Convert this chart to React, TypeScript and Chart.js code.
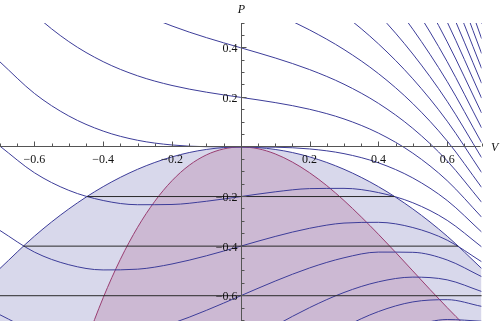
import React, { useEffect, useRef } from "react";
import { Chart, registerables } from "chart.js";

Chart.register(...registerables);

// Volume samples (V axis)
const V_SAMPLES = [-0.7, -0.6, -0.5, -0.4, -0.3, -0.2, -0.1, 0, 0.1, 0.2, 0.3, 0.4, 0.5, 0.6, 0.7];

// Isotherms, P at each V sample (one array per curve)
const isoM12 = [-1.697, -1.704, -1.675, -1.616, -1.533, -1.432, -1.319, -1.2, -1.081, -0.968, -0.867, -0.784, -0.725, -0.696, -0.703];
const isoM10 = [-1.357, -1.384, -1.375, -1.336, -1.273, -1.192, -1.099, -1.0, -0.901, -0.808, -0.727, -0.664, -0.625, -0.616, -0.643];
const isoM08 = [-1.017, -1.064, -1.075, -1.056, -1.013, -0.952, -0.879, -0.8, -0.721, -0.648, -0.587, -0.544, -0.525, -0.536, -0.583];
const isoM06 = [-0.677, -0.744, -0.775, -0.776, -0.753, -0.712, -0.659, -0.6, -0.541, -0.488, -0.447, -0.424, -0.425, -0.456, -0.523];
const isoM04 = [-0.337, -0.424, -0.475, -0.496, -0.493, -0.472, -0.439, -0.4, -0.361, -0.328, -0.307, -0.304, -0.325, -0.376, -0.463];
const isoM02 = [0.003, -0.104, -0.175, -0.216, -0.233, -0.232, -0.219, -0.2, -0.181, -0.168, -0.167, -0.184, -0.225, -0.296, -0.403];
const iso00 = [0.343, 0.216, 0.125, 0.064, 0.027, 0.008, 0.001, 0, -0.001, -0.008, -0.027, -0.064, -0.125, -0.216, -0.343];
const iso02 = [0.683, 0.536, 0.425, 0.344, 0.287, 0.248, 0.221, 0.2, 0.179, 0.152, 0.113, 0.056, -0.025, -0.136, -0.283];
const iso04 = [1.023, 0.856, 0.725, 0.624, 0.547, 0.488, 0.441, 0.4, 0.359, 0.312, 0.253, 0.176, 0.075, -0.056, -0.223];
const iso06 = [1.363, 1.176, 1.025, 0.904, 0.807, 0.728, 0.661, 0.6, 0.539, 0.472, 0.393, 0.296, 0.175, 0.024, -0.163];
const iso08 = [1.703, 1.496, 1.325, 1.184, 1.067, 0.968, 0.881, 0.8, 0.719, 0.632, 0.533, 0.416, 0.275, 0.104, -0.103];
const iso10 = [2.043, 1.816, 1.625, 1.464, 1.327, 1.208, 1.101, 1.0, 0.899, 0.792, 0.673, 0.536, 0.375, 0.184, -0.043];
const iso12 = [2.383, 2.136, 1.925, 1.744, 1.587, 1.448, 1.321, 1.2, 1.079, 0.952, 0.813, 0.656, 0.475, 0.264, 0.017];
const iso14 = [2.723, 2.456, 2.225, 2.024, 1.847, 1.688, 1.541, 1.4, 1.259, 1.112, 0.953, 0.776, 0.575, 0.344, 0.077];
const iso16 = [3.063, 2.776, 2.525, 2.304, 2.107, 1.928, 1.761, 1.6, 1.439, 1.272, 1.093, 0.896, 0.675, 0.424, 0.137];
const iso18 = [3.403, 3.096, 2.825, 2.584, 2.367, 2.168, 1.981, 1.8, 1.619, 1.432, 1.233, 1.016, 0.775, 0.504, 0.197];
const iso20 = [3.743, 3.416, 3.125, 2.864, 2.627, 2.408, 2.201, 2.0, 1.799, 1.592, 1.373, 1.136, 0.875, 0.584, 0.257];
const iso22 = [4.083, 3.736, 3.425, 3.144, 2.887, 2.648, 2.421, 2.2, 1.979, 1.752, 1.513, 1.256, 0.975, 0.664, 0.317];
const iso24 = [4.423, 4.056, 3.725, 3.424, 3.147, 2.888, 2.641, 2.4, 2.159, 1.912, 1.653, 1.376, 1.075, 0.744, 0.377];
const iso26 = [4.763, 4.376, 4.025, 3.704, 3.407, 3.128, 2.861, 2.6, 2.339, 2.072, 1.793, 1.496, 1.175, 0.824, 0.437];
const iso28 = [5.103, 4.696, 4.325, 3.984, 3.667, 3.368, 3.081, 2.8, 2.519, 2.232, 1.933, 1.616, 1.275, 0.904, 0.497];

const ISOTHERMS = [isoM12, isoM10, isoM08, isoM06, isoM04, isoM02, iso00, iso02, iso04, iso06, iso08, iso10, iso12, iso14, iso16, iso18, iso20, iso22, iso24, iso26, iso28];

// Coexistence curve (outer, blue region)
const COEX_P = [-0.49, -0.36, -0.25, -0.16, -0.09, -0.04, -0.01, 0, -0.01, -0.04, -0.09, -0.16, -0.25, -0.36, -0.49];

// Spinodal curve (inner, purple region)
const SPIN_V = [-0.7, -0.65, -0.6, -0.55, -0.5, -0.45, -0.4, -0.35, -0.3, -0.25, -0.2, -0.15, -0.1, -0.05, 0, 0.05, 0.1, 0.15, 0.2, 0.25, 0.3, 0.35, 0.4, 0.45, 0.5, 0.55, 0.6, 0.65, 0.7];
const SPIN_P = [-2.156, -1.817, -1.512, -1.24, -1.0, -0.79, -0.608, -0.453, -0.324, -0.219, -0.136, -0.074, -0.032, -0.008, 0, -0.007, -0.028, -0.061, -0.104, -0.156, -0.216, -0.282, -0.352, -0.425, -0.5, -0.575, -0.648, -0.718, -0.784];

// Tie lines (Maxwell construction)
const TIE_P = [-0.2, -0.4, -0.6];
const TIE_LEFT = [-0.447, -0.632, -0.775];
const TIE_RIGHT = [0.447, 0.632, 0.775];

// Axis ticks
const X_TICKS = [-0.6, -0.4, -0.2, 0.2, 0.4, 0.6];
const X_TICK_LABELS = ["\u22120.6", "\u22120.4", "\u22120.2", "0.2", "0.4", "0.6"];
const Y_TICKS = [-0.6, -0.4, -0.2, 0.2, 0.4];
const Y_TICK_LABELS = ["\u22120.6", "\u22120.4", "\u22120.2", "0.2", "0.4"];

const BLUE = "rgb(61,61,153)";
const PURPLE = "rgb(153,61,113)";
const SERIF = "'Liberation Serif', 'DejaVu Serif', serif";

const axesPlugin = {
  id: "mmaAxes",
  afterDatasetsDraw(chart: any) {
    const { ctx, chartArea, scales } = chart;
    const xs = scales.x;
    const ys = scales.y;
    const ax = Math.round(xs.getPixelForValue(0)) + 0.5;
    const ay = Math.floor(ys.getPixelForValue(0)) + 0.5;
    ctx.save();
    ctx.strokeStyle = "#555";
    ctx.lineWidth = 1;
    ctx.beginPath();
    ctx.moveTo(chartArea.left, ay);
    ctx.lineTo(chartArea.right - 1, ay);
    ctx.moveTo(ax, chartArea.top);
    ctx.lineTo(ax, chartArea.bottom);
    ctx.stroke();

    // minor + major ticks on x
    ctx.beginPath();
    for (let i = -14; i <= 14; i++) {
      if (i === 0) continue;
      const v = i * 0.05;
      const px = Math.round(xs.getPixelForValue(v)) + 0.5;
      const len = i % 4 === 0 ? 5 : 3;
      ctx.moveTo(px, ay);
      ctx.lineTo(px, ay - len);
    }
    for (let i = -14; i <= 10; i++) {
      if (i === 0) continue;
      const v = i * 0.05;
      const py = Math.floor(ys.getPixelForValue(v)) + 0.5;
      const len = i % 4 === 0 ? 5 : 3;
      ctx.moveTo(ax, py);
      ctx.lineTo(ax + len, py);
    }
    ctx.stroke();

    ctx.fillStyle = "#111";
    ctx.font = `12px ${SERIF}`;
    ctx.textAlign = "center";
    ctx.textBaseline = "alphabetic";
    X_TICKS.forEach((v, i) => {
      ctx.fillText(X_TICK_LABELS[i], xs.getPixelForValue(v), ay + 16.5);
    });
    ctx.textAlign = "right";
    Y_TICKS.forEach((v, i) => {
      ctx.fillText(Y_TICK_LABELS[i], ax - 4, ys.getPixelForValue(v) + 4.5);
    });

    ctx.font = `italic 12px ${SERIF}`;
    ctx.textAlign = "center";
    ctx.fillText("P", ax, 12.5);
    ctx.textAlign = "left";
    ctx.fillText("V", 491, ay + 4.5);
    ctx.restore();
  },
};

export default function App() {
  const ref = useRef<HTMLCanvasElement | null>(null);

  useEffect(() => {
    if (!ref.current) return;
    const datasets: any[] = [];

    TIE_P.forEach((p, i) => {
      datasets.push({
        data: [
          { x: TIE_LEFT[i], y: p },
          { x: TIE_RIGHT[i], y: p },
        ],
        borderColor: "#2a2a2a",
        borderWidth: 1,
        pointRadius: 0,
        fill: false,
        tension: 0,
        order: 0,
      });
    });

    ISOTHERMS.forEach((arr) => {
      datasets.push({
        data: V_SAMPLES.map((v, i) => ({ x: v, y: arr[i] })),
        borderColor: BLUE,
        borderWidth: 1,
        pointRadius: 0,
        fill: false,
        cubicInterpolationMode: "monotone",
        order: 1,
      });
    });

    datasets.push({
      data: SPIN_V.map((v, i) => ({ x: v, y: SPIN_P[i] })),
      borderColor: PURPLE,
      backgroundColor: "rgba(153,61,113,0.2)",
      borderWidth: 1,
      pointRadius: 0,
      fill: "start",
      cubicInterpolationMode: "monotone",
      order: 2,
    });

    datasets.push({
      data: V_SAMPLES.map((v, i) => ({ x: v, y: COEX_P[i] })),
      borderColor: BLUE,
      backgroundColor: "rgba(61,61,153,0.2)",
      borderWidth: 1,
      pointRadius: 0,
      fill: "start",
      cubicInterpolationMode: "monotone",
      order: 3,
    });

    const chart = new Chart(ref.current, {
      type: "line",
      data: { datasets },
      options: {
        animation: false,
        responsive: false,
        devicePixelRatio: 1,
        events: [],
        layout: { padding: { left: 0, right: 18.4, top: 23, bottom: 0 } },
        scales: {
          x: { type: "linear", min: -0.7, max: 0.7, display: false },
          y: { type: "linear", min: -0.702, max: 0.5, display: false },
        },
        plugins: {
          legend: { display: false },
          tooltip: { enabled: false },
          title: { display: false },
        },
      },
      plugins: [axesPlugin],
    } as any);

    return () => chart.destroy();
  }, []);

  return (
    <div style={{ position: "fixed", left: 0, top: 0, width: 500, height: 321, background: "#fff" }}>
      <canvas ref={ref} width={500} height={321} style={{ display: "block", width: 500, height: 321 }} />
    </div>
  );
}
